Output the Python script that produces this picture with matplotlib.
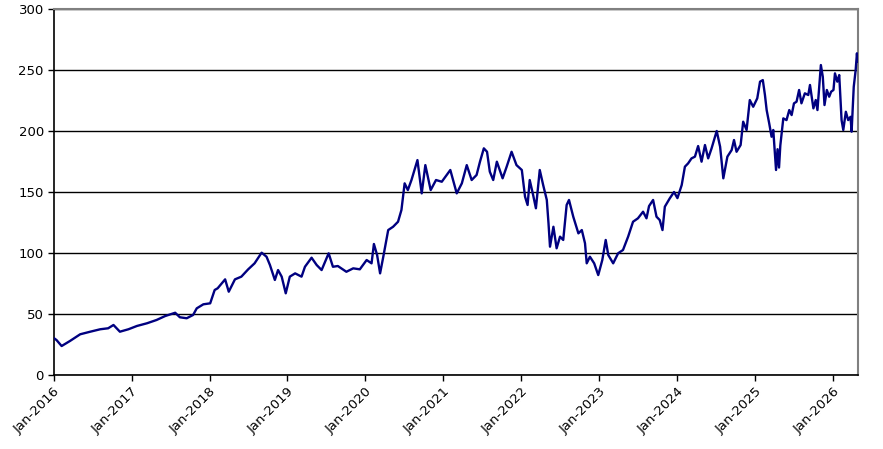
import matplotlib
matplotlib.use("Agg")
import matplotlib.dates as mdates
import matplotlib.pyplot as plt
import pandas as pd

# price history
dates = [
    "2016-01-04", "2016-01-15", "2016-02-08", "2016-03-18", "2016-05-05", "2016-06-21",
    "2016-08-07", "2016-09-13", "2016-10-08", "2016-11-07", "2016-12-17", "2017-01-26",
    "2017-03-14", "2017-04-28", "2017-06-07", "2017-07-24", "2017-08-15", "2017-09-16",
    "2017-10-16", "2017-11-02", "2017-12-03", "2018-01-04", "2018-01-25", "2018-02-08",
    "2018-03-15", "2018-04-01", "2018-04-30", "2018-05-30", "2018-07-01", "2018-07-31",
    "2018-09-02", "2018-09-25", "2018-10-11", "2018-11-03", "2018-11-18", "2018-12-05",
    "2018-12-24", "2019-01-12", "2019-02-06", "2019-03-08", "2019-03-24", "2019-04-24",
    "2019-05-18", "2019-06-10", "2019-07-13", "2019-08-02", "2019-08-25", "2019-10-04",
    "2019-11-05", "2019-12-06", "2020-01-07", "2020-01-30", "2020-02-10", "2020-02-25",
    "2020-03-10", "2020-03-25", "2020-04-17", "2020-05-10", "2020-06-02", "2020-06-18",
    "2020-07-03", "2020-07-18", "2020-08-04", "2020-09-01", "2020-09-21", "2020-10-08",
    "2020-11-02", "2020-11-27", "2020-12-24", "2021-02-02", "2021-03-04", "2021-03-28",
    "2021-04-20", "2021-05-13", "2021-06-05", "2021-06-21", "2021-07-09", "2021-07-24",
    "2021-08-06", "2021-08-22", "2021-09-08", "2021-10-05", "2021-10-24", "2021-11-16",
    "2021-12-09", "2022-01-03", "2022-01-18", "2022-01-30", "2022-02-09", "2022-02-25",
    "2022-03-10", "2022-03-28", "2022-04-13", "2022-04-30", "2022-05-08", "2022-05-15",
    "2022-05-31", "2022-06-15", "2022-07-01", "2022-07-16", "2022-08-01", "2022-08-12",
    "2022-09-01", "2022-09-25", "2022-10-11", "2022-10-26", "2022-11-03", "2022-11-18",
    "2022-12-08", "2022-12-27", "2023-01-15", "2023-01-31", "2023-02-12", "2023-03-07",
    "2023-03-30", "2023-04-22", "2023-05-16", "2023-06-08", "2023-07-01", "2023-07-25",
    "2023-08-10", "2023-08-22", "2023-09-10", "2023-09-26", "2023-10-11", "2023-10-24",
    "2023-11-04", "2023-11-27", "2023-12-17", "2024-01-02", "2024-01-22", "2024-02-06",
    "2024-02-21", "2024-03-08", "2024-03-24", "2024-04-08", "2024-04-24", "2024-05-10",
    "2024-05-25", "2024-06-10", "2024-07-04", "2024-07-20", "2024-08-04", "2024-08-23",
    "2024-09-12", "2024-09-23", "2024-10-05", "2024-10-24", "2024-11-05", "2024-11-21",
    "2024-12-06", "2024-12-22", "2025-01-10", "2025-01-23", "2025-02-05", "2025-02-15",
    "2025-02-23", "2025-03-07", "2025-03-18", "2025-03-26", "2025-04-08", "2025-04-15",
    "2025-04-22", "2025-04-28", "2025-05-12", "2025-05-27", "2025-06-09", "2025-06-20",
    "2025-07-01", "2025-07-13", "2025-07-25", "2025-08-05", "2025-08-21", "2025-09-06",
    "2025-09-14", "2025-09-30", "2025-10-11", "2025-10-19", "2025-11-04", "2025-11-13",
    "2025-11-21", "2025-12-02", "2025-12-13", "2025-12-22", "2026-01-02", "2026-01-09",
    "2026-01-20", "2026-01-29", "2026-02-09", "2026-02-17", "2026-03-01", "2026-03-12",
    "2026-03-23", "2026-03-28", "2026-04-07", "2026-04-16", "2026-04-22", "2026-04-25",
]
prices = [
    30.4, 29.0, 24.1, 28.2, 33.7, 35.8,
    37.8, 38.6, 41.3, 35.8, 37.8, 40.5,
    42.7, 45.4, 48.6, 51.3, 47.6, 46.8,
    49.5, 54.9, 58.2, 59.0, 69.9, 71.3,
    78.6, 68.5, 78.6, 80.8, 86.8, 91.7,
    100.4, 97.1, 90.3, 78.1, 86.2, 80.8,
    67.2, 80.8, 83.5, 80.8, 88.9, 96.3,
    90.3, 86.2, 99.9, 88.9, 89.5, 84.8,
    87.6, 86.8, 94.4, 91.7, 107.5, 98.5,
    83.5, 97.1, 118.9, 121.6, 125.7, 135.3,
    157.1, 151.6, 159.8, 176.1, 148.9, 172.0,
    151.6, 159.8, 158.4, 168.0, 148.9, 157.1,
    172.0, 159.8, 163.9, 174.8, 185.7, 182.9,
    166.6, 159.8, 174.8, 161.2, 170.7, 182.9,
    172.0, 168.0, 146.2, 139.4, 159.8, 147.5,
    136.7, 168.0, 155.7, 143.5, 124.4, 105.3,
    121.6, 104.0, 113.5, 110.8, 139.4, 143.5,
    129.8, 116.2, 118.9, 108.1, 91.7, 97.1,
    91.7, 82.1, 94.4, 110.8, 98.5, 91.7,
    99.9, 102.6, 113.5, 125.7, 128.5, 133.9,
    128.5, 138.5, 143.5, 129.8, 127.1, 118.9,
    138.0, 144.8, 150.0, 145.0, 155.7, 170.7,
    173.4, 177.5, 178.9, 187.6, 174.8, 188.4,
    177.5, 185.7, 199.9, 187.0, 161.2, 178.9,
    184.3, 192.5, 182.9, 188.4, 207.5, 200.7,
    225.2, 219.7, 226.6, 240.2, 241.5, 229.3,
    217.0, 206.1, 195.2, 200.7, 168.0, 185.0,
    170.0, 188.0, 210.2, 208.8, 217.0, 212.9,
    222.5, 223.8, 233.4, 222.5, 230.7, 229.3,
    237.5, 218.4, 225.2, 217.0, 253.8, 244.2,
    221.1, 233.4, 227.9, 232.0, 233.4, 247.0,
    240.2, 245.6, 208.8, 200.7, 215.6, 208.8,
    211.5, 199.3, 236.0, 249.7, 263.4, 256.5,
]
tick_years = list(range(2016, 2027))
y_ticks = [0, 50, 100, 150, 200, 250, 300]

df = pd.DataFrame({"date": pd.to_datetime(dates), "price": prices})

fig = plt.figure(figsize=(8.83, 4.49), dpi=100)
ax = fig.add_axes((0.0606, 0.1637, 0.9111, 0.8173))

ax.plot(df["date"], df["price"], color="#000080", linewidth=1.7, zorder=3)

ax.set_ylim(0, 300)
ax.set_yticks(y_ticks)
ax.set_xlim(pd.Timestamp("2016-01-01"), pd.Timestamp("2026-04-27"))
ax.set_xticks([pd.Timestamp(f"{y}-01-01") for y in tick_years])
ax.xaxis.set_major_formatter(mdates.DateFormatter("%b-%Y"))

ax.grid(axis="y", color="black", linewidth=1.0)
ax.set_axisbelow(True)

for side in ("left", "bottom"):
    ax.spines[side].set_color("black")
    ax.spines[side].set_linewidth(1.2)
for side in ("top", "right"):
    ax.spines[side].set_color("#808080")
    ax.spines[side].set_linewidth(1.5)

ax.tick_params(axis="both", direction="out", length=4, width=1, color="black",
               labelsize=9.5, pad=3)
plt.setp(ax.get_xticklabels(), rotation=45, ha="right", rotation_mode="anchor")

fig.savefig("out.png", dpi=100)
